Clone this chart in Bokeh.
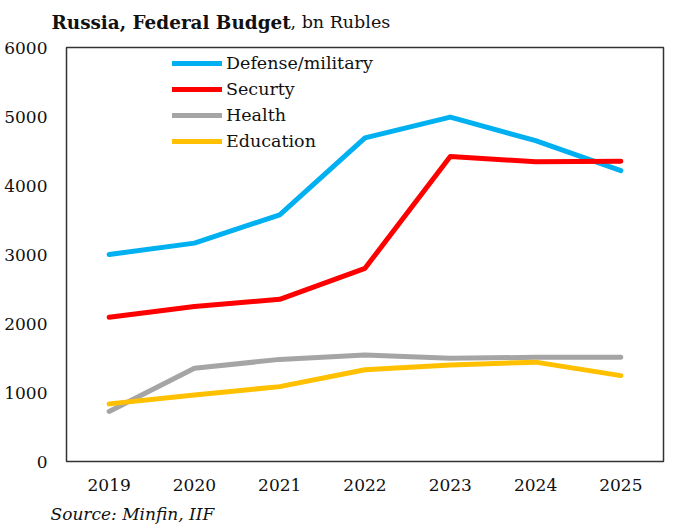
from bokeh.plotting import figure
from bokeh.models import Range1d, FixedTicker, Legend, LegendItem, Label
from bokeh.embed import file_html
from bokeh.resources import INLINE

years = [2019, 2020, 2021, 2022, 2023, 2024, 2025]
defense = [3000, 3165, 3575, 4690, 4990, 4650, 4215]
security = [2090, 2245, 2350, 2800, 4420, 4345, 4350]
health = [725, 1350, 1480, 1545, 1495, 1510, 1512]
education = [835, 965, 1085, 1330, 1400, 1440, 1245]
y_ticks = [0, 1000, 2000, 3000, 4000, 5000, 6000]

series = [
    ("Defense/military", defense, "#00B0F0"),
    ("Securty", security, "#FF0000"),
    ("Health", health, "#A5A5A5"),
    ("Education", education, "#FFC000"),
]

FONT = "DejaVu Serif"

p = figure(width=680, height=526, output_backend="svg", toolbar_location=None,
           x_range=Range1d(2018.5, 2025.5), y_range=Range1d(0, 6000),
           min_border_left=66, min_border_right=17, min_border_top=47, min_border_bottom=65)
p.background_fill_color = "white"
p.border_fill_color = "white"
p.outline_line_color = "#333333"
p.outline_line_width = 1.5
p.xgrid.visible = False
p.ygrid.visible = False

for ax in (p.xaxis[0], p.yaxis[0]):
    ax.axis_line_color = None
    ax.major_tick_line_color = None
    ax.minor_tick_line_color = None
    ax.major_tick_out = 0
    ax.major_tick_in = 0
    ax.major_label_text_font = FONT
    ax.major_label_text_font_size = "17px"
    ax.major_label_text_color = "#111111"

p.xaxis.ticker = FixedTicker(ticks=years)
p.yaxis.ticker = FixedTicker(ticks=y_ticks)
p.xaxis.major_label_standoff = 17
p.yaxis.major_label_standoff = 19

items = []
for name, vals, color in series:
    r = p.line(years, vals, line_color=color, line_width=5, line_cap="round", line_join="round")
    items.append(LegendItem(label=name, renderers=[r]))

legend = Legend(items=items, location=(106, 310), orientation="vertical",
                glyph_width=50, glyph_height=20, label_height=20, spacing=6,
                padding=0, margin=0, label_standoff=4,
                label_text_font=FONT, label_text_font_size="17.5px",
                label_text_color="#111111",
                border_line_color=None, background_fill_alpha=0)
p.add_layout(legend)

t1 = Label(x=-15, y=25, x_units="screen", y_units="screen", text="Russia, Federal Budget",
           text_font=FONT, text_font_size="18.4px", text_font_style="bold",
           text_baseline="alphabetic", text_color="#111111")
t2 = Label(x=224, y=5, x_units="screen", y_units="screen", text=", bn Rubles",
           text_font=FONT, text_font_size="17.5px", text_baseline="alphabetic",
           text_color="#111111")
src = Label(x=-16, y=0, x_units="screen", y_units="screen", text="Source: Minfin, IIF",
            text_font=FONT, text_font_size="17px", text_font_style="italic",
            text_baseline="alphabetic", text_color="#111111")
p.add_layout(t1, "above")
p.add_layout(t2, "above")
p.add_layout(src, "below")

open("out.html", "w").write(file_html(p, INLINE))
